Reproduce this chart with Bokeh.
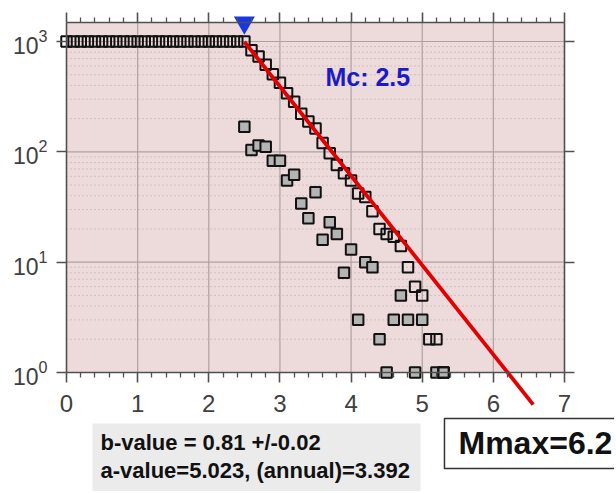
from bokeh.plotting import figure
from bokeh.models import Range1d, LinearAxis, LogAxis, FixedTicker
from bokeh.embed import file_html
from bokeh.resources import INLINE
from bokeh.core.properties import value

# ---- data ----
mag = [0.0, 0.1, 0.2, 0.3, 0.4, 0.5, 0.6, 0.7, 0.8, 0.9,
       1.0, 1.1, 1.2, 1.3, 1.4, 1.5, 1.6, 1.7, 1.8, 1.9,
       2.0, 2.1, 2.2, 2.3, 2.4, 2.5, 2.6, 2.7, 2.8, 2.9,
       3.0, 3.1, 3.2, 3.3, 3.4, 3.5, 3.6, 3.7, 3.8, 3.9,
       4.0, 4.1, 4.2, 4.3, 4.4, 4.5, 4.6, 4.7, 4.8, 4.9,
       5.0, 5.1, 5.2, 5.3]
cum_count = [1000, 1000, 1000, 1000, 1000, 1000, 1000, 1000, 1000, 1000,
             1000, 1000, 1000, 1000, 1000, 1000, 1000, 1000, 1000, 1000,
             1000, 1000, 1000, 1000, 1000, 1000, 834, 730, 616, 505,
             422, 339, 284, 222, 188, 163, 120, 97, 76, 64,
             55, 42, 39, 29, 20, 18, 17, 14, 9, 6,
             5, 2, 2, 1]
inc_mag = [2.5, 2.6, 2.7, 2.8, 2.9, 3.0, 3.1, 3.2, 3.3, 3.4,
           3.5, 3.6, 3.7, 3.8, 3.9, 4.0, 4.1, 4.2, 4.3, 4.4,
           4.5, 4.6, 4.7, 4.8, 4.9, 5.0, 5.2, 5.3]
inc_count = [169, 104, 114, 111, 83, 83, 55, 62, 34, 25,
             43, 16, 23, 18, 8, 13, 3, 10, 9, 2,
             1, 3, 5, 3, 1, 3, 1, 1]

b_value = 0.81
b_err = 0.02
a_value = 5.023
a_annual = 3.392
mc = 2.5
mmax = 6.2
fit_mag = [2.5, 6.56]
x_ticks = [0, 1, 2, 3, 4, 5, 6, 7]
y_ticks = [1, 10, 100, 1000]

fit_count = [10 ** (a_value - b_value * m) for m in fit_mag]

# ---- layout constants ----
FONT = value("Liberation Sans")
Y_TOP = 10 ** 3.172
Y_BOT = 1
X_MIN, X_MAX = x_ticks[0], x_ticks[-1]
AX_COL = "#505050"
PINK = "#eddbdb"

p = figure(width=614, height=491,
           x_range=Range1d(-0.928, 7.703),
           y_range=Range1d(10 ** -1.0786, 10 ** 3.3717),
           y_axis_type="log", x_axis_location=None, y_axis_location=None,
           output_backend="svg", toolbar_location=None, title=None,
           min_border=0)
p.outline_line_color = None
p.background_fill_color = "white"
p.border_fill_color = "white"
for g in p.grid:
    g.visible = False

# plot area background
p.quad(left=[X_MIN], right=[X_MAX], bottom=[Y_BOT], top=[Y_TOP],
       fill_color=PINK, line_color=None)

# grid (drawn inside the box only)
minor_rows = [k * 10 ** d for d in range(3) for k in range(2, 10)]
p.segment(x0=[X_MIN] * len(minor_rows), y0=minor_rows,
          x1=[X_MAX] * len(minor_rows), y1=minor_rows,
          line_color="#9f8f8f", line_width=1, line_dash="1 3", line_alpha=0.7)
inner_x = x_ticks[1:-1]
p.segment(x0=inner_x, y0=[Y_BOT] * len(inner_x), x1=inner_x, y1=[Y_TOP] * len(inner_x),
          line_color="#b0a0a0", line_width=1.2)
inner_y = y_ticks[1:]
p.segment(x0=[X_MIN] * len(inner_y), y0=inner_y, x1=[X_MAX] * len(inner_y), y1=inner_y,
          line_color="#b0a0a0", line_width=1.2)

# data
p.scatter(inc_mag, inc_count, marker="square", size=10.5,
          fill_color="#b4b4b4", line_color="#111111", line_width=2)
p.scatter(mag, cum_count, marker="square", size=10.5,
          fill_color=None, line_color="#111111", line_width=2)
p.line(fit_mag, fit_count, line_color="#e30000", line_width=3.8)
p.scatter([mc], [Y_TOP], marker="inverted_triangle", size=21,
          fill_color="#1537e8", line_color=None)

p.text(x=[3.64], y=[10 ** 2.674], text=[f"Mc: {mc}"], text_font=FONT,
       text_font_style="bold", text_font_size="25px", text_color="#1a1ac8",
       text_baseline="middle", text_align="left")

# info boxes
p.quad(left=[0.365], right=[4.976], bottom=[0.01], top=[0.345],
       fill_color="#ebebeb", line_color=None)
p.text(x=[0.478, 0.478], y=[0.232, 0.1293],
       text=[f"b-value = {b_value} +/-{b_err}",
             f"a-value={a_value}, (annual)={a_annual}"],
       text_font=FONT, text_font_style="bold", text_font_size="22px",
       text_color="#111111", text_baseline="middle", text_align="left")
p.quad(left=[5.313], right=[9.0], bottom=[0.1349], top=[0.383],
       fill_color="white", line_color="#333333", line_width=1.5)
p.text(x=[5.51], y=[0.2273], text=[f"Mmax={mmax}"],
       text_font=FONT, text_font_style="bold", text_font_size="32px",
       text_color="#111111", text_baseline="middle", text_align="left")

# axes forming the box
minor_x = [i * 0.2 for i in range(36) if i % 5 != 0]


def style(ax, labels):
    ax.axis_line_color = AX_COL
    ax.axis_line_width = 1.6
    ax.major_tick_line_color = AX_COL
    ax.major_tick_line_width = 1.6
    ax.minor_tick_line_color = AX_COL
    ax.minor_tick_line_width = 1.3
    ax.major_tick_in = 0
    ax.major_tick_out = 10
    ax.minor_tick_in = 0
    ax.minor_tick_out = 5
    ax.major_label_text_font = "Liberation Sans"
    ax.major_label_text_font_size = "24px"
    ax.major_label_text_color = "#404040" if labels else None


bottom = LinearAxis(fixed_location=Y_BOT, bounds=(X_MIN, X_MAX),
                    ticker=FixedTicker(ticks=x_ticks, minor_ticks=minor_x))
style(bottom, True)
bottom.major_label_standoff = 13
p.add_layout(bottom, "below")

top = LinearAxis(fixed_location=Y_TOP, bounds=(X_MIN, X_MAX),
                 ticker=FixedTicker(ticks=x_ticks, minor_ticks=minor_x))
style(top, False)
p.add_layout(top, "above")

left = LogAxis(fixed_location=X_MIN, bounds=(Y_BOT, Y_TOP),
               ticker=FixedTicker(ticks=y_ticks, minor_ticks=[]))
style(left, True)
left.major_label_text_font_size = "23px"
left.major_label_standoff = 9
p.add_layout(left, "left")

right = LogAxis(fixed_location=X_MAX, bounds=(Y_BOT, Y_TOP),
                ticker=FixedTicker(ticks=y_ticks, minor_ticks=[]))
style(right, False)
p.add_layout(right, "right")

open("out.html", "w").write(file_html(p, INLINE))
